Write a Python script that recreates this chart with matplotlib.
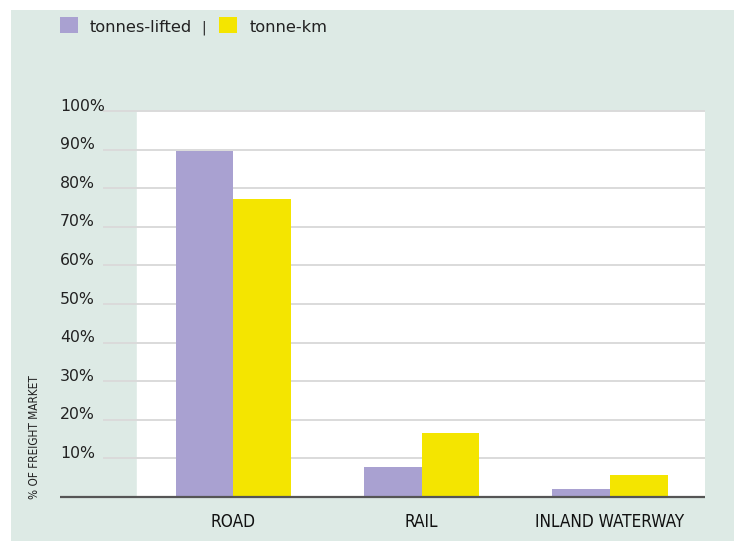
import matplotlib.pyplot as plt
from matplotlib.patches import Rectangle
from matplotlib.transforms import blended_transform_factory
import numpy as np

categories = ['ROAD', 'RAIL', 'INLAND WATERWAY']
tonnes_lifted = [89.6, 7.9, 2.2]
tonne_km = [77.2, 16.6, 5.8]
yticks = [10, 20, 30, 40, 50, 60, 70, 80, 90, 100]
series_names = ['tonnes-lifted', 'tonne-km']

purple = '#a9a1d1'
yellow = '#f4e500'
bg = '#ddeae5'
narrow = ['Liberation Sans Narrow', 'DejaVu Sans']

W, H = 734, 541
fig = plt.figure(figsize=(W / 100, H / 100), dpi=100)
fig.patch.set_facecolor('white')
fig.patches.append(Rectangle((11 / W, 0), 1 - 11 / W, 1 - 10 / H,
                             transform=fig.transFigure, facecolor=bg,
                             edgecolor='none', zorder=-5))

ax = fig.add_axes([60 / W, 44 / H, 645 / W, 386 / H])
ax.set_zorder(2)
ax.set_facecolor('none')
ax.set_xlim(-0.92, 2.505)
ax.set_ylim(0, 100)
for s in ax.spines.values():
    s.set_visible(False)
ax.set_xticks([])
ax.set_yticks([])

# white plotting panel
ax.axvspan(-0.51, 2.505, color='white', zorder=0)

# gridlines and tick labels
ytr = blended_transform_factory(ax.transAxes, ax.transData)
for v in yticks:
    ax.hlines(v, -0.69, 2.505, color='#dadada', lw=1.4, zorder=1, clip_on=False)
    ax.text(0, v + 0.1, f'{v}%', transform=ytr, ha='left', va='baseline',
            fontsize=11.3, color='#222222')

x = np.arange(len(categories))
w = 0.306
ax.bar(x - w / 2, tonnes_lifted, w, color=purple, zorder=2)
ax.bar(x + w / 2, tonne_km, w, color=yellow, zorder=2)

ax.hlines(0, -0.92, 2.505, color='#555555', lw=1.6, zorder=3, clip_on=False)

xtr = blended_transform_factory(ax.transData, ax.transAxes)
for i, c in enumerate(categories):
    ax.text(i, -0.065, c, transform=xtr, ha='center', va='center',
            fontsize=12.3, color='#111111', family=narrow,
            fontstretch='condensed')

fig.text(35 / W, (H - 437) / H, '% OF FREIGHT MARKET', rotation=90,
         ha='center', va='center', fontsize=8.5, color='#222222',
         family=narrow, fontstretch='condensed')

# legend
fig.patches.append(Rectangle((60 / W, 1 - 33 / H), 18 / W, 16 / H,
                             transform=fig.transFigure, facecolor=purple,
                             edgecolor='none'))
fig.patches.append(Rectangle((219 / W, 1 - 33 / H), 18 / W, 16 / H,
                             transform=fig.transFigure, facecolor=yellow,
                             edgecolor='none'))
fig.text(90 / W, 1 - 28 / H, series_names[0], ha='left', va='center',
         fontsize=11.7, color='#222222')
fig.text(204 / W, 1 - 28 / H, '|', ha='center', va='center',
         fontsize=10, color='#222222')
fig.text(250 / W, 1 - 28 / H, series_names[1], ha='left', va='center',
         fontsize=11.7, color='#222222')

fig.savefig('out.png', dpi=100)
